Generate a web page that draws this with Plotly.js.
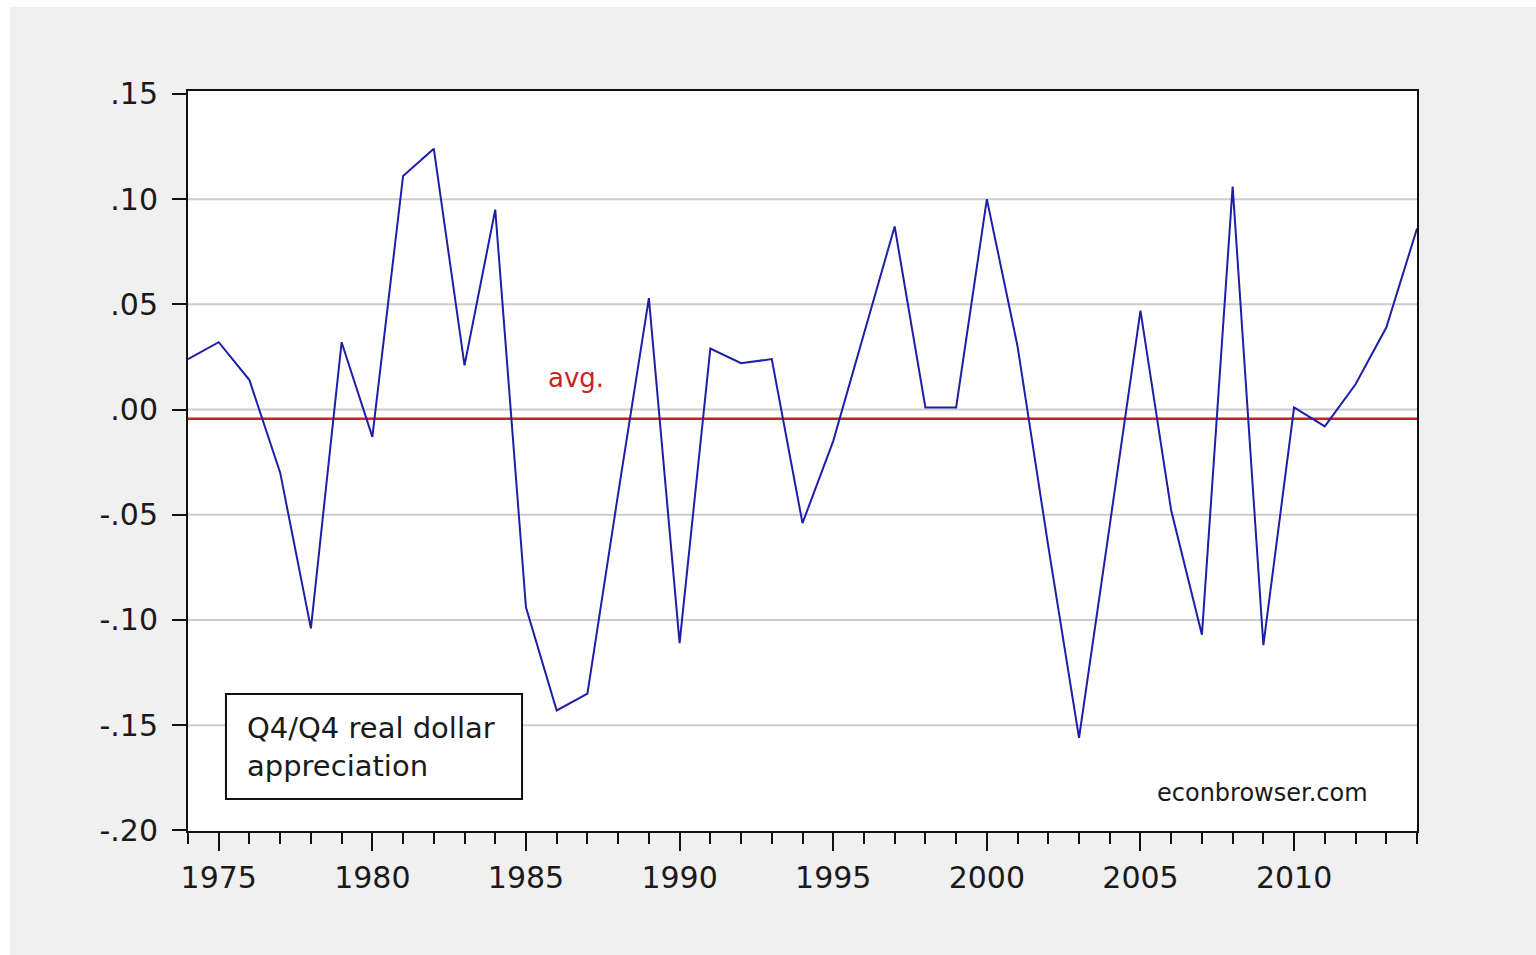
<!DOCTYPE html>
<html>
<head>
<meta charset="utf-8">
<script src="https://cdn.plot.ly/plotly-3.0.1.min.js"></script>
<style>
  html, body { margin: 0; padding: 0; background: #ffffff; width: 1536px; height: 955px; overflow: hidden; }
  #chart { position: absolute; left: 10px; top: 7px; width: 1526px; height: 948px; }
</style>
</head>
<body>
<div id="chart"></div>
<script>
// Years (annual Q4/Q4 observations)
const years = [1974, 1975, 1976, 1977, 1978, 1979, 1980, 1981, 1982, 1983,
               1984, 1985, 1986, 1987, 1988, 1989, 1990, 1991, 1992, 1993,
               1994, 1995, 1996, 1997, 1998, 1999, 2000, 2001, 2002, 2003,
               2004, 2005, 2006, 2007, 2008, 2009, 2010, 2011, 2012, 2013, 2014];
// Q4/Q4 real dollar appreciation
const appreciation = [0.024, 0.032, 0.014, -0.030, -0.104, 0.032, -0.013, 0.111, 0.124, 0.021,
                      0.095, -0.094, -0.143, -0.135, -0.040, 0.053, -0.111, 0.029, 0.022, 0.024,
                      -0.054, -0.015, 0.036, 0.087, 0.001, 0.001, 0.100, 0.030, -0.065, -0.156,
                      -0.055, 0.047, -0.048, -0.107, 0.106, -0.112, 0.001, -0.008, 0.012, 0.039, 0.086];
// Average line
const avgYears = [1974, 2014];
const avgValue = -0.0044;
const avgSeries = [avgValue, avgValue];
// Axis ticks and gridlines
const yTickVals = [-0.20, -0.15, -0.10, -0.05, 0.00, 0.05, 0.10, 0.15];
const yTickText = ['-.20', '-.15', '-.10', '-.05', '.00', '.05', '.10', '.15'];
const yGridVals = [-0.15, -0.10, -0.05, 0.00, 0.05, 0.10];
const xTickVals = [1975, 1980, 1985, 1990, 1995, 2000, 2005, 2010];
const xTickText = ['1975', '1980', '1985', '1990', '1995', '2000', '2005', '2010'];

const FONT = 'DejaVu Sans, Verdana, sans-serif';

const traces = [
  {
    x: avgYears, y: avgSeries, type: 'scatter', mode: 'lines',
    line: { color: '#cc1f1f', width: 2.5 }, hoverinfo: 'skip', showlegend: false
  },
  {
    x: years, y: appreciation, type: 'scatter', mode: 'lines',
    line: { color: '#1e1ea6', width: 2 }, showlegend: false
  }
];

const gridShapes = yGridVals.map(v => ({
  type: 'line', xref: 'paper', yref: 'y', x0: 0, x1: 1, y0: v, y1: v,
  line: { color: '#cccccc', width: 2 }, layer: 'below'
}));

const layout = {
  width: 1526, height: 948,
  paper_bgcolor: '#f0f0f0',
  plot_bgcolor: '#ffffff',
  margin: { l: 178, r: 119, t: 84, b: 124, pad: 0 },
  showlegend: false,
  font: { family: FONT, size: 30, color: '#1a1a1a' },
  xaxis: {
    range: [1974, 2014],
    tickmode: 'array', tickvals: xTickVals, ticktext: xTickText,
    ticks: 'outside', ticklen: 18, tickwidth: 2, tickcolor: '#111',
    minor: { dtick: 1, tick0: 1974, ticks: 'outside', ticklen: 11, tickwidth: 2, tickcolor: '#111', showgrid: false },
    showgrid: false, zeroline: false,
    showline: true, linecolor: '#111', linewidth: 2, mirror: true,
    tickfont: { family: FONT, size: 30, color: '#1a1a1a' },
    ticklabelstandoff: 1
  },
  yaxis: {
    range: [-0.2003, 0.1514],
    tickmode: 'array', tickvals: yTickVals, ticktext: yTickText,
    ticks: 'outside', ticklen: 14, tickwidth: 2, tickcolor: '#111',
    showgrid: false,
    zeroline: false,
    showline: true, linecolor: '#111', linewidth: 2, mirror: true,
    tickfont: { family: FONT, size: 30, color: '#1a1a1a' },
    ticklabelstandoff: 8
  },
  shapes: gridShapes.concat([
    {
      type: 'rect', xref: 'paper', yref: 'paper',
      x0: 0.0309, x1: 0.2718, y0: 0.0432, y1: 0.185,
      fillcolor: '#ffffff', line: { color: '#111', width: 2 }, layer: 'above'
    }
  ]),
  annotations: [
    {
      xref: 'paper', yref: 'paper', x: 0.0465, y: 0.1135,
      xanchor: 'left', yanchor: 'middle', align: 'left',
      text: 'Q4/Q4 real dollar<br>appreciation', showarrow: false,
      font: { family: FONT, size: 29, color: '#1a1a1a' }
    },
    {
      xref: 'paper', yref: 'paper', x: 0.3157, y: 0.612,
      xanchor: 'center', yanchor: 'middle',
      text: 'avg.', showarrow: false,
      font: { family: FONT, size: 26, color: '#cc2222' }
    },
    {
      xref: 'paper', yref: 'paper', x: 0.9617, y: 0.0514,
      xanchor: 'right', yanchor: 'middle',
      text: 'econbrowser.com', showarrow: false,
      font: { family: FONT, size: 24, color: '#1a1a1a' }
    }
  ]
};

Plotly.newPlot('chart', traces, layout, { displayModeBar: false, staticPlot: true });
</script>
</body>
</html>
